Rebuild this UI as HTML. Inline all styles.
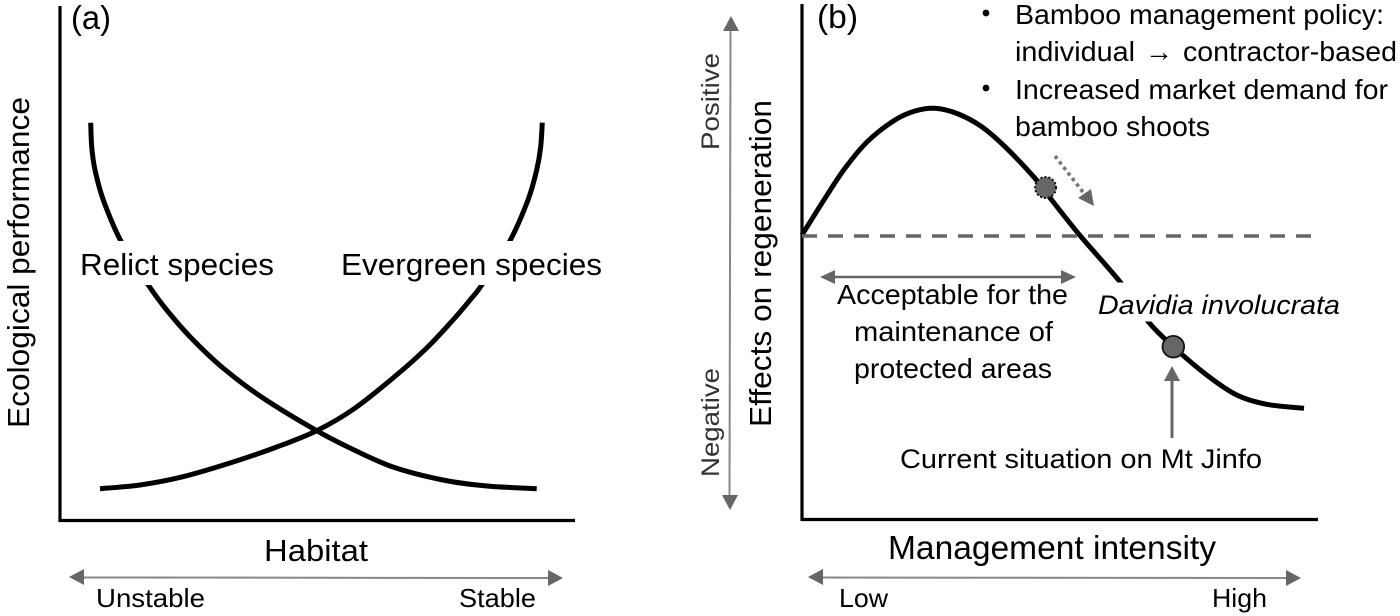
<!DOCTYPE html>
<html lang="en">
<head>
<meta charset="utf-8">
<title>Ecological performance and management intensity</title>
<style>
html,body{margin:0;padding:0;background:#fff;}
body{width:1400px;height:616px;overflow:hidden;}
svg{display:block;}
text{font-family:"Liberation Sans",sans-serif;fill:#000;}
</style>
</head>
<body>
<svg id="figure" width="1400" height="616" viewBox="0 0 1400 616" xmlns="http://www.w3.org/2000/svg">
  <rect x="0" y="0" width="1400" height="616" fill="#fff"/>

  <g id="curves-a"></g>
  <g id="curves-b"></g>

  <rect x="76" y="241" width="206" height="44" fill="#fff"/>
  <rect x="336" y="241" width="268" height="44" fill="#fff"/>
  <rect x="1090" y="282.5" width="255" height="39" fill="#fff"/>

  <line x1="60" y1="6" x2="60" y2="522" stroke="#000" stroke-width="3.2"/>
  <line x1="58.5" y1="520.5" x2="575" y2="520.5" stroke="#000" stroke-width="3.2"/>
  <line x1="802" y1="4" x2="802" y2="521" stroke="#000" stroke-width="3.2"/>
  <line x1="800.5" y1="519.5" x2="1318" y2="519.5" stroke="#000" stroke-width="3.2"/>

  <g id="marks-b"></g>

  <g>
    <line x1="82" y1="577.5" x2="550" y2="578" stroke="#888" stroke-width="2"/>
    <polygon points="69,577 84,569 84,585" fill="#666"/>
    <polygon points="563,578 548,570 548,586" fill="#666"/>
  </g>
  <g>
    <line x1="820" y1="577.5" x2="1290" y2="578" stroke="#888" stroke-width="2"/>
    <polygon points="808,577 823,569 823,585" fill="#666"/>
    <polygon points="1301,578 1286,570 1286,586" fill="#666"/>
  </g>
  <g>
    <line x1="730.5" y1="30" x2="729.5" y2="497" stroke="#888" stroke-width="2"/>
    <polygon points="731,16 723,31 739,31" fill="#666"/>
    <polygon points="730,510 722,495 738,495" fill="#666"/>
  </g>
  <g>
    <line x1="830" y1="277" x2="1066" y2="277" stroke="#666" stroke-width="2.6"/>
    <polygon points="820,277 835,270 835,284" fill="#666"/>
    <polygon points="1076,277 1061,270 1061,284" fill="#666"/>
  </g>
  <g>
    <line x1="1172" y1="438" x2="1172" y2="378" stroke="#666" stroke-width="3"/>
    <polygon points="1172,366 1164,381 1180,381" fill="#666"/>
  </g>
  <g>
    <line x1="1055" y1="156" x2="1086" y2="196" stroke="#777" stroke-width="3.6" stroke-dasharray="3.5 3.5"/>
    <polygon points="1094,206 1078,198 1091,189" fill="#666"/>
  </g>

  <text x="71" y="29" font-size="33" textLength="40" lengthAdjust="spacingAndGlyphs">(a)</text>
  <text transform="translate(29,428) rotate(-90)" font-size="31" textLength="331" lengthAdjust="spacingAndGlyphs">Ecological performance</text>
  <text x="80" y="275" font-size="31" textLength="194" lengthAdjust="spacingAndGlyphs">Relict species</text>
  <text x="341" y="275" font-size="31" textLength="261" lengthAdjust="spacingAndGlyphs">Evergreen species</text>
  <text x="264" y="561" font-size="31" textLength="104" lengthAdjust="spacingAndGlyphs">Habitat</text>
  <text x="96" y="607" font-size="26" textLength="109" lengthAdjust="spacingAndGlyphs">Unstable</text>
  <text x="459" y="607" font-size="26" textLength="77" lengthAdjust="spacingAndGlyphs">Stable</text>

  <text x="817" y="28" font-size="33" textLength="41" lengthAdjust="spacingAndGlyphs">(b)</text>
  <text transform="translate(719,150) rotate(-90)" font-size="25" style="fill:#333" textLength="97" lengthAdjust="spacingAndGlyphs">Positive</text>
  <text transform="translate(719,477) rotate(-90)" font-size="25" style="fill:#333" textLength="109" lengthAdjust="spacingAndGlyphs">Negative</text>
  <text transform="translate(771,427) rotate(-90)" font-size="31" textLength="327" lengthAdjust="spacingAndGlyphs">Effects on regeneration</text>

  <circle cx="986" cy="13" r="3.4" fill="#000"/>
  <circle cx="986" cy="88" r="3.4" fill="#000"/>
  <text x="1015" y="24" font-size="28" textLength="369" lengthAdjust="spacingAndGlyphs">Bamboo management policy:</text>
  <g>
    <text x="1015" y="61" font-size="28" textLength="120" lengthAdjust="spacingAndGlyphs">individual</text>
    <text x="1145" y="61" font-size="28" textLength="28" lengthAdjust="spacingAndGlyphs">→</text>
    <text x="1183" y="61" font-size="28" textLength="214" lengthAdjust="spacingAndGlyphs">contractor-based</text>
  </g>
  <text x="1015" y="99" font-size="28" textLength="373" lengthAdjust="spacingAndGlyphs">Increased market demand for</text>
  <text x="1015" y="136" font-size="28" textLength="195" lengthAdjust="spacingAndGlyphs">bamboo shoots</text>

  <text x="837" y="304" font-size="28" textLength="231" lengthAdjust="spacingAndGlyphs">Acceptable for the</text>
  <text x="854" y="341" font-size="28" textLength="199" lengthAdjust="spacingAndGlyphs">maintenance of</text>
  <text x="854" y="378" font-size="28" textLength="198" lengthAdjust="spacingAndGlyphs">protected areas</text>
  <text x="1098" y="314" font-size="27" font-style="italic" textLength="242" lengthAdjust="spacingAndGlyphs">Davidia involucrata</text>
  <text x="900" y="468" font-size="27" textLength="362" lengthAdjust="spacingAndGlyphs">Current situation on Mt Jinfo</text>
  <text x="888" y="559" font-size="33" textLength="328" lengthAdjust="spacingAndGlyphs">Management intensity</text>
  <text x="839" y="607" font-size="26" textLength="49" lengthAdjust="spacingAndGlyphs">Low</text>
  <text x="1212" y="607" font-size="26" textLength="55" lengthAdjust="spacingAndGlyphs">High</text>
</svg>

<script>
// Panel (a): habitat stability (0-100) vs ecological performance (0-100)
const relictX = [5.96, 6.16, 6.8, 8.41, 11.79, 17.15, 20.72, 25.24, 31.65, 39.42, 49.84, 56.31, 64.66, 74.37, 82.91, 92.56];
const relictY = [79.46, 74.66, 70, 64, 55.86, 47, 42, 36.66, 30.4, 24.4, 17.86, 14.4, 10.6, 8, 6.8, 6.26];
const evergreenX = [7.77, 15.53, 23.88, 33.01, 42.08, 49.84, 56.89, 64.66, 71.2, 76.31, 79.94, 81.88, 87.38, 90.87, 92.56, 93.34, 93.65];
const evergreenY = [6.26, 7, 8.66, 11.4, 14.6, 17.86, 22.1, 28.4, 34.4, 40, 44.4, 47, 55.86, 64, 70, 74.66, 79.46];

// Panel (b): management intensity (0-100) vs effect on regeneration (0-100)
const regenerationX = [0, 4.46, 8.33, 12.79, 18.02, 21.9, 25.78, 30.29, 34.83, 39.34, 45.16, 48.39, 53.88, 61.76, 67.11, 71.96, 78.43, 84.24, 90.06, 97.29];
const regenerationY = [57, 64.34, 70.34, 75.8, 80, 81.8, 82.34, 81.2, 78.66, 74.66, 68.34, 64, 56.9, 47.46, 39.66, 34.66, 29, 25, 23.14, 22.34];
const neutralEffect = [56.8];
const neutralRange = [0, 99.6];
const formerStateX = [47.2];
const formerStateY = [66.5];
const currentStateX = [71.96];
const currentStateY = [34.66];

const SVG_NS = 'http://www.w3.org/2000/svg';
function axisXA(v){ return 60 + v * 5.15; }
function axisXB(v){ return 802 + v * 5.16; }
function axisY(v){ return 520 - v * 5; }

function smoothPath(xs, ys, sx, sy){
  const p = xs.map(function(x, i){ return [sx(x), sy(ys[i])]; });
  let d = 'M' + p[0][0].toFixed(1) + ' ' + p[0][1].toFixed(1);
  for (let i = 0; i < p.length - 1; i++){
    const a = p[Math.max(i - 1, 0)], b = p[i], c = p[i + 1], e = p[Math.min(i + 2, p.length - 1)];
    const c1x = b[0] + (c[0] - a[0]) / 6, c1y = b[1] + (c[1] - a[1]) / 6;
    const c2x = c[0] - (e[0] - b[0]) / 6, c2y = c[1] - (e[1] - b[1]) / 6;
    d += 'C' + c1x.toFixed(1) + ' ' + c1y.toFixed(1) + ' ' + c2x.toFixed(1) + ' ' + c2y.toFixed(1) + ' ' + c[0].toFixed(1) + ' ' + c[1].toFixed(1);
  }
  return d;
}

const groupA = document.getElementById('curves-a');
const groupB = document.getElementById('curves-b');
const marksB = document.getElementById('marks-b');

const relictCurve = document.createElementNS(SVG_NS, 'path');


relictCurve.setAttribute('d', smoothPath(relictX, relictY, axisXA, axisY));
relictCurve.setAttribute('fill', 'none');
relictCurve.setAttribute('stroke', '#000');
relictCurve.setAttribute('stroke-width', '5');
groupA.appendChild(relictCurve);

const evergreenCurve = document.createElementNS(SVG_NS, 'path');


evergreenCurve.setAttribute('d', smoothPath(evergreenX, evergreenY, axisXA, axisY));
evergreenCurve.setAttribute('fill', 'none');
evergreenCurve.setAttribute('stroke', '#000');
evergreenCurve.setAttribute('stroke-width', '5');
groupA.appendChild(evergreenCurve);

const regenerationCurve = document.createElementNS(SVG_NS, 'path');


regenerationCurve.setAttribute('d', smoothPath(regenerationX, regenerationY, axisXB, axisY));
regenerationCurve.setAttribute('fill', 'none');
regenerationCurve.setAttribute('stroke', '#000');
regenerationCurve.setAttribute('stroke-width', '5');
groupB.appendChild(regenerationCurve);

const neutralLine = document.createElementNS(SVG_NS, 'line');


neutralLine.setAttribute('x1', axisXB(neutralRange[0]));
neutralLine.setAttribute('x2', axisXB(neutralRange[1]));
neutralLine.setAttribute('y1', axisY(neutralEffect[0]));
neutralLine.setAttribute('y2', axisY(neutralEffect[0]));
neutralLine.setAttribute('stroke', '#666');
neutralLine.setAttribute('stroke-width', '3.6');
neutralLine.setAttribute('stroke-dasharray', '15 11');
marksB.appendChild(neutralLine);

const formerDot = document.createElementNS(SVG_NS, 'circle');


formerDot.setAttribute('cx', axisXB(formerStateX[0]));
formerDot.setAttribute('cy', axisY(formerStateY[0]));
formerDot.setAttribute('r', '10.5');
formerDot.setAttribute('fill', '#666');
formerDot.setAttribute('stroke', '#111');
formerDot.setAttribute('stroke-width', '2');
formerDot.setAttribute('stroke-dasharray', '2 2');
marksB.appendChild(formerDot);

const currentDot = document.createElementNS(SVG_NS, 'circle');


currentDot.setAttribute('cx', axisXB(currentStateX[0]));
currentDot.setAttribute('cy', axisY(currentStateY[0]));
currentDot.setAttribute('r', '10.8');
currentDot.setAttribute('fill', '#666');
currentDot.setAttribute('stroke', '#111');
currentDot.setAttribute('stroke-width', '1.8');
marksB.appendChild(currentDot);
</script>
</body>
</html>
